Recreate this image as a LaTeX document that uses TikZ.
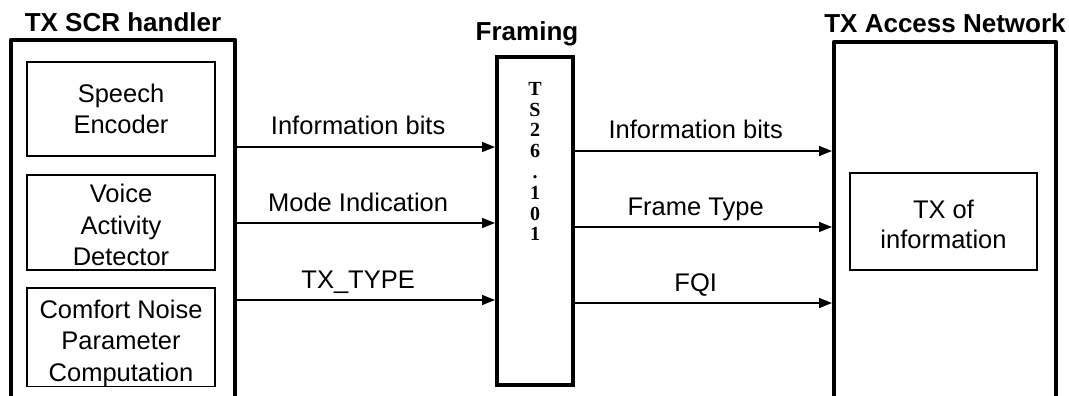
\documentclass[tikz,border=0pt]{standalone}
\usepackage{fontspec}
\setmainfont{Liberation Sans}
\newfontfamily\tsfont{Liberation Serif}
\usetikzlibrary{arrows.meta}
\newcommand{\lift}[1]{\rule{0pt}{#1}}
\tikzset{
  sysbox/.style={inner sep=0pt, outer sep=0pt},
  sysline/.style={line width=4.5pt, line join=round},
  blk/.style={draw, line width=1.4pt, inner sep=0pt, outer sep=0pt, align=center,
    font=\fontsize{25.5}{31.5}\selectfont},
  frmbox/.style={draw, line width=3.5pt, inner sep=0pt, outer sep=0pt},
  ttl/.style={anchor=base, inner sep=0pt, font=\bfseries\fontsize{26}{30}\selectfont},
  vtxt/.style={anchor=north, inner sep=0pt, align=center,
    font=\tsfont\bfseries\fontsize{20}{20.8}\selectfont},
  arr/.style={line width=1.5pt, -{Triangle[length=13pt,width=10pt]}, shorten >=2pt},
  lbl/.style={pos=0.47, anchor=base, yshift=12pt, inner sep=0pt,
    font=\fontsize{25.5}{30}\selectfont}
}
\begin{document}
\begin{tikzpicture}[x=1pt,y=-1pt]
  \useasboundingbox (0,0) rectangle (1069,396);

  \node[sysbox, minimum width=224pt, minimum height=356pt, anchor=north west] (scr) at (11,40) {};
  \draw[sysline] (scr.south west) |- (scr.north east) -- (scr.south east);
  \node[ttl] (scrttl) at ([yshift=8pt]scr.north) {TX SCR handler};

  \node[blk, minimum width=188pt, minimum height=94pt, anchor=north west] (enc) at (27,62) {Speech\\Encoder};
  \node[blk, minimum width=188pt, minimum height=95pt, anchor=north west] (vad) at (27,175) {\lift{24pt}Voice\\Activity\\Detector};
  \node[blk, minimum width=188pt, minimum height=97pt, anchor=north west] (cnp) at (27,288) {\lift{30pt}Comfort Noise\\Parameter\\Computation};

  \node[frmbox, minimum width=76pt, minimum height=328pt, anchor=north west] (frm) at (497,57) {};
  \node[ttl] (frmttl) at ([xshift=-8pt,yshift=16pt]frm.north) {Framing};
  \node[vtxt] (ts) at ([yshift=-25pt]frm.north) {T\\S\\2\\6\\.\\1\\0\\1};

  \node[sysbox, minimum width=222pt, minimum height=354pt, anchor=north west] (an) at (834,42) {};
  \draw[sysline] (an.south west) |- (an.north east) -- (an.south east);
  \node[ttl] (anttl) at ([yshift=9pt]an.north) {TX Access Network};
  \node[blk, font=\fontsize{25.5}{30}\selectfont, minimum width=187pt, minimum height=97pt, anchor=north west] (txi) at (850,173) {\lift{25pt}TX of\\information};

  \coordinate (l1) at (0,147);
  \coordinate (l2) at (0,223);
  \coordinate (l3) at (0,300);
  \coordinate (r1) at (0,151);
  \coordinate (r2) at (0,227);
  \coordinate (r3) at (0,303);

  \draw[arr] (scr.east |- l1) -- (frm.west |- l1) node[lbl] {Information bits};
  \draw[arr] (scr.east |- l2) -- (frm.west |- l2) node[lbl] {Mode Indication};
  \draw[arr] (scr.east |- l3) -- (frm.west |- l3) node[lbl] {TX\_TYPE};

  \draw[arr] (frm.east |- r1) -- (an.west |- r1) node[lbl] {Information bits};
  \draw[arr] (frm.east |- r2) -- (an.west |- r2) node[lbl] {Frame Type};
  \draw[arr] (frm.east |- r3) -- (an.west |- r3) node[lbl] {FQI};
\end{tikzpicture}
\end{document}
